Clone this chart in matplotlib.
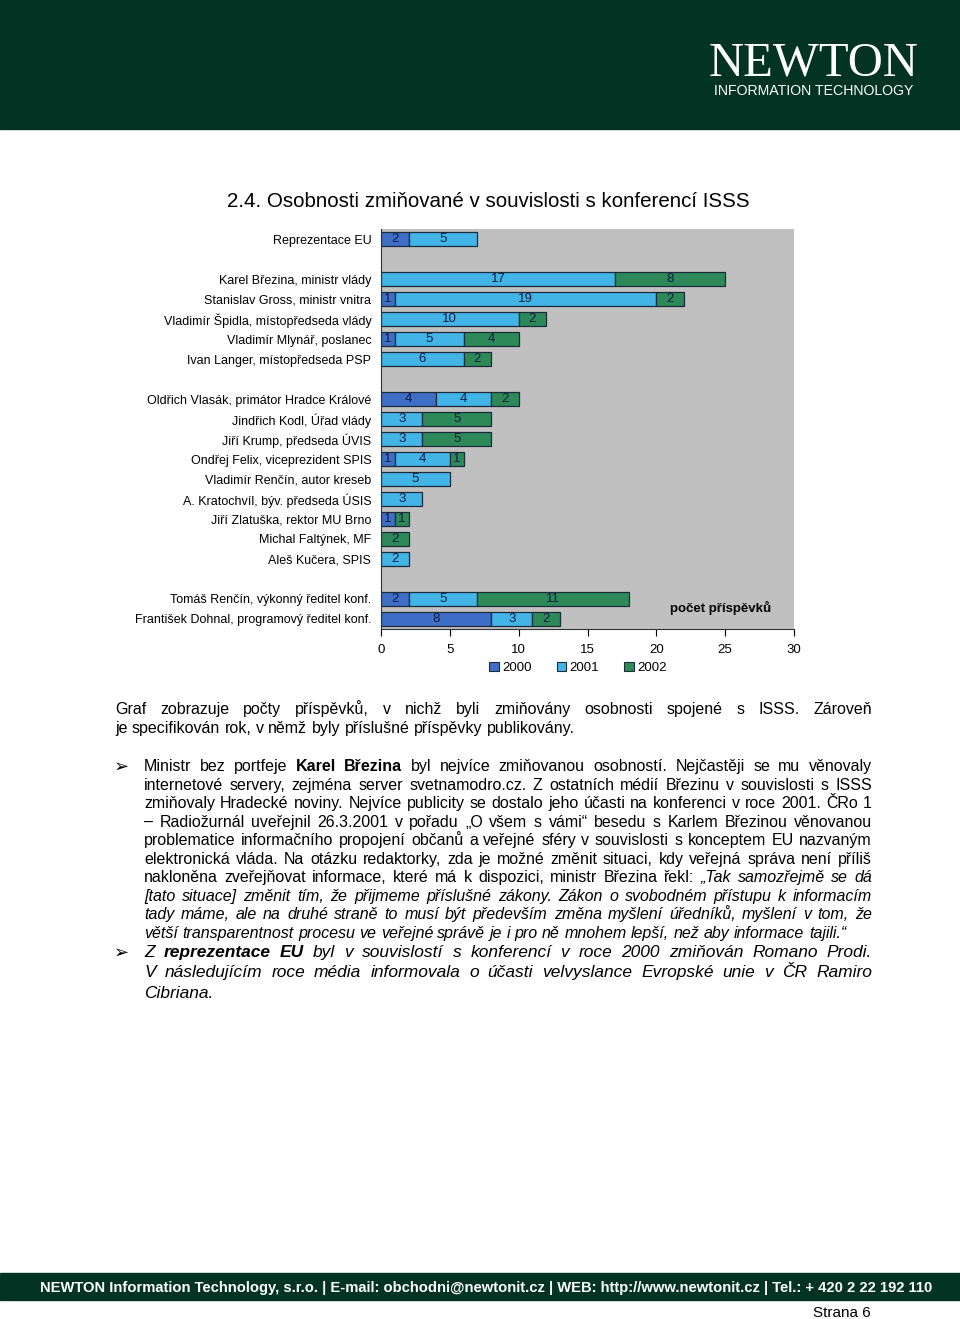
import numpy as np
import matplotlib
matplotlib.use("Agg")
import matplotlib.pyplot as plt
from matplotlib.patches import Rectangle, Patch

plt.rcParams['font.family'] = ['Liberation Sans', 'DejaVu Sans']

W, H = 960, 1319

# --- data (top to bottom, '' = empty spacer row) ---
labels = ['Reprezentace EU', '',
          'Karel Březina, ministr vlády', 'Stanislav Gross, ministr vnitra',
          'Vladimír Špidla, místopředseda vlády', 'Vladimír Mlynář, poslanec',
          'Ivan Langer, místopředseda PSP', '',
          'Oldřich Vlasák, primátor Hradce Králové', 'Jindřich Kodl, Úřad vlády',
          'Jiří Krump, předseda ÚVIS', 'Ondřej Felix, viceprezident SPIS',
          'Vladimír Renčín, autor kreseb', 'A. Kratochvíl, býv. předseda ÚSIS',
          'Jiří Zlatuška, rektor MU Brno', 'Michal Faltýnek, MF',
          'Aleš Kučera, SPIS', '',
          'Tomáš Renčín, výkonný ředitel konf.', 'František Dohnal, programový ředitel konf.']
v2000 = [2, 0, 0, 1, 0, 1, 0, 0, 4, 0, 0, 1, 0, 0, 1, 0, 0, 0, 2, 8]
v2001 = [5, 0, 17, 19, 10, 5, 6, 0, 4, 3, 3, 4, 5, 3, 0, 0, 2, 0, 5, 3]
v2002 = [0, 0, 8, 2, 2, 4, 2, 0, 2, 5, 5, 1, 0, 0, 1, 2, 0, 0, 11, 2]
years = ['2000', '2001', '2002']
colors = ['#3e6ec6', '#42b4e6', '#2d8a58']
xticks = [0, 5, 10, 15, 20, 25, 30]

fig = plt.figure(figsize=(9.6, 13.19), dpi=100)
r = fig.canvas.get_renderer()


def fx(px):
    return px / W


def fy(py):
    return 1 - py / H


# header / footer bands
fig.add_artist(Rectangle((0, fy(129)), 1, 129 / H, transform=fig.transFigure,
                         color='#033323', zorder=0))
fig.add_artist(Rectangle((0, fy(1300)), 1, 27 / H, transform=fig.transFigure,
                         color='#033323', zorder=0))
fig.text(fx(814), fy(64), 'NEWTON', family='Liberation Serif', fontsize=35,
         color='white', ha='center', va='center')
fig.text(fx(814), fy(91), 'INFORMATION TECHNOLOGY', fontsize=10.2,
         color='white', ha='center', va='center')

foot = fig.text(fx(40), fy(1292), 'NEWTON Information Technology, s.r.o. | E-mail: obchodni@newtonit.cz'
                ' | WEB: http://www.newtonit.cz | Tel.: + 420 2 22 192 110',
                fontsize=11, color='white', fontweight='bold', va='baseline')
fw = foot.get_window_extent(r).width
foot.set_fontsize(11 * 896 / fw)
fig.text(fx(871), fy(1317), 'Strana 6', fontsize=11, ha='right', va='baseline')

fig.text(fx(227), fy(207), '2.4. Osobnosti zmiňované v souvislosti s konferencí ISSS',
         fontsize=14.8, va='baseline')

# --- chart ---
ax = fig.add_axes([fx(381), fy(629), (794 - 381) / W, 400 / H])
ax.set_facecolor('#c0c0c0')
y = np.arange(len(labels))
a0, a1, a2 = np.array(v2000), np.array(v2001), np.array(v2002)
lefts = [np.zeros(len(y)), a0, a0 + a1]
for vals, left, c in zip([a0, a1, a2], lefts, colors):
    m = vals > 0
    ax.barh(y[m], vals[m], left=left[m], height=0.72, color=c,
            edgecolor='#1b2b3a', linewidth=0.9, zorder=2)
    for yy, v, l in zip(y[m], vals[m], left[m]):
        ax.text(l + v / 2, yy, str(v), ha='center', va='center', fontsize=9.5,
                color='#131c45', zorder=3)
ax.set_ylim(len(labels) - 0.5, -0.5)
ax.set_xlim(0, 30)
ax.set_yticks(y)
ax.set_yticklabels(labels, fontsize=9)
ax.set_xticks(xticks)
ax.set_xticklabels([str(t) for t in xticks], fontsize=9.5)
ax.tick_params(axis='y', length=0, pad=7)
ax.tick_params(axis='x', length=5, width=0.8, direction='out', pad=6)
for s in ['top', 'right']:
    ax.spines[s].set_visible(False)
for s in ['left', 'bottom']:
    ax.spines[s].set_color('#333333')
    ax.spines[s].set_linewidth(0.8)
ax.text(0.823, 0.052, 'počet příspěvků', transform=ax.transAxes, fontsize=9.5,
        fontweight='bold', ha='center', va='center')

handles = [Patch(facecolor=c, edgecolor='#1b2b3a', linewidth=0.8) for c in colors]
fig.legend(handles, years, loc='center', bbox_to_anchor=(fx(578), fy(668)),
           ncol=3, frameon=False, fontsize=9.5, handlelength=0.75, handleheight=0.75,
           handletextpad=0.25, columnspacing=1.9)


# --- body text, justified line by line ---
def put_line(ypx, parts, x0, x1, justify=True, size=11.5):
    words = []
    for txt, wt, st in parts:
        for w in txt.split():
            words.append((w, wt, st))
    arts = [fig.text(fx(x0), fy(ypx + 5), w, fontsize=size, fontweight=wt,
                     fontstyle=st, va='baseline') for w, wt, st in words]
    widths = [a.get_window_extent(r).width for a in arts]
    gap = size * 100 / 72 * 0.278
    if justify and len(arts) > 1:
        gap = (x1 - x0 - sum(widths)) / (len(arts) - 1)
    x = x0
    for a, w in zip(arts, widths):
        a.set_x(fx(x))
        x += w + gap


N, B, I = 'normal', 'bold', 'italic'
put_line(709, [('Graf zobrazuje počty příspěvků, v nichž byli zmiňovány osobnosti '
                'spojené s ISSS. Zároveň', N, N)], 115, 872)
put_line(728, [('je specifikován rok, v němž byly příslušné příspěvky publikovány.', N, N)],
         115, 872, justify=False)

b1 = [
    [('Ministr bez portfeje', N, N), ('Karel Březina', B, N),
     ('byl nejvíce zmiňovanou osobností. Nejčastěji se mu věnovaly', N, N)],
    [('internetové servery, zejména server svetnamodro.cz. Z ostatních médií '
      'Březinu v souvislosti s ISSS', N, N)],
    [('zmiňovaly Hradecké noviny. Nejvíce publicity se dostalo jeho účasti na '
      'konferenci v roce 2001. ČRo 1', N, N)],
    [('– Radiožurnál uveřejnil 26.3.2001 v pořadu „O všem s vámi“ besedu s '
      'Karlem Březinou věnovanou', N, N)],
    [('problematice informačního propojení občanů a veřejné sféry v souvislosti '
      's konceptem EU nazvaným', N, N)],
    [('elektronická vláda. Na otázku redaktorky, zda je možné změnit situaci, '
      'kdy veřejná správa není příliš', N, N)],
    [('nakloněna zveřejňovat informace, které má k dispozici, ministr Březina řekl:', N, N),
     ('„Tak samozřejmě se dá', N, I)],
    [('[tato situace] změnit tím, že přijmeme příslušné zákony. Zákon o '
      'svobodném přístupu k informacím', N, I)],
    [('tady máme, ale na druhé straně to musí být především změna myšlení '
      'úředníků, myšlení v tom, že', N, I)],
    [('větší transparentnost procesu ve veřejné správě je i pro ně mnohem '
      'lepší, než aby informace tajili.“', N, I)],
]
ys1 = [766, 785, 803, 822, 840, 859, 877, 896, 914, 933]
for i, (yy, parts) in enumerate(zip(ys1, b1)):
    put_line(yy, parts, 144, 872, justify=(i < len(b1) - 1))

b2 = [
    [('Z', N, I), ('reprezentace EU', B, I),
     ('byl v souvislostí s konferencí v roce 2000 zmiňován Romano Prodi.', N, I)],
    [('V následujícím roce média informovala o účasti velvyslance Evropské '
      'unie v ČR Ramiro', N, I)],
    [('Cibriana.', N, I)],
]
ys2 = [952, 972, 993]
for i, (yy, parts) in enumerate(zip(ys2, b2)):
    put_line(yy, parts, 144, 872, justify=(i < 2), size=12.5)

for yy in [766, 952]:
    fig.text(fx(114), fy(yy + 6), '➢', family='DejaVu Sans', fontsize=13,
             va='baseline')

fig.savefig('out.png', dpi=100)
